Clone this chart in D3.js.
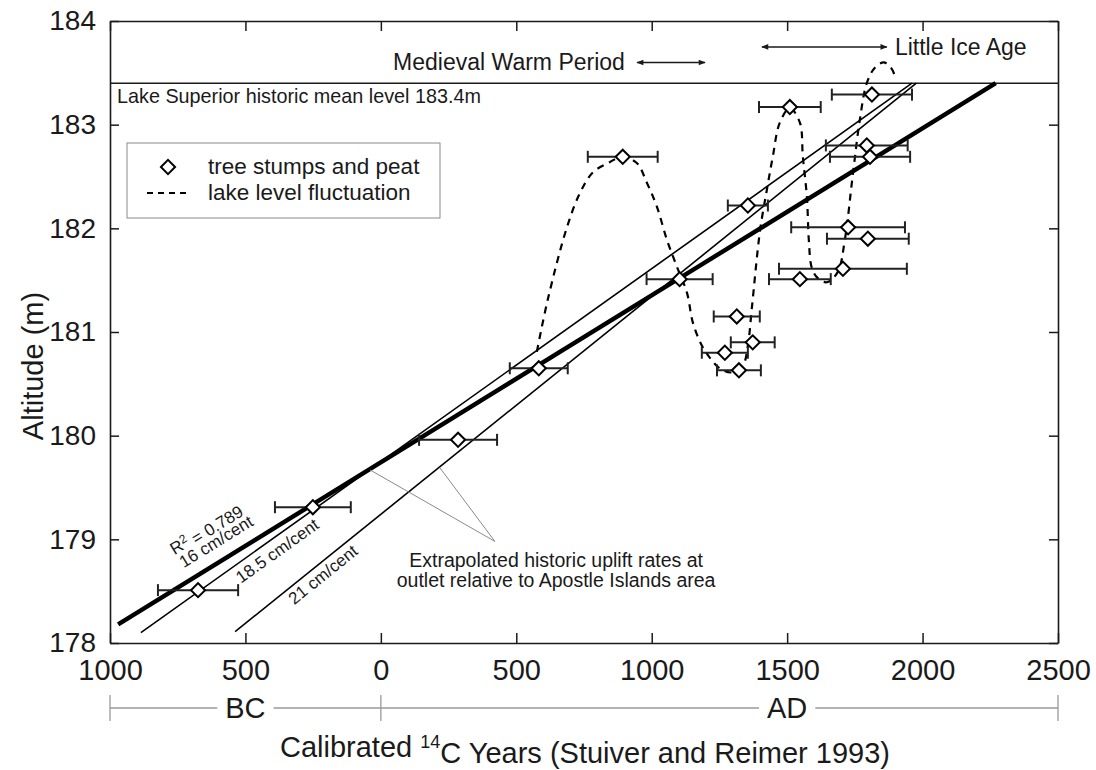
<!DOCTYPE html>
<html>
<head>
<meta charset="utf-8">
<script src="https://cdn.jsdelivr.net/npm/d3@7"></script>
<style>
body { margin: 0; background: #fff; }
svg { font-family: "Liberation Sans", Arial, Helvetica, sans-serif; }
</style>
</head>
<body>
<script>
// tree stumps and peat samples (calibrated year, altitude m, +/- years)
var sampleYears = [-675, -251, 285, 583, 893, 1103, 1314, 1373, 1270, 1322, 1355, 1510, 1547, 1706, 1725, 1798, 1794, 1806, 1813];
var sampleAlts = [178.51, 179.31, 179.96, 180.65, 182.69, 181.51, 181.15, 180.90, 180.80, 180.63, 182.22, 183.17, 181.51, 181.61, 182.01, 181.90, 182.80, 182.69, 183.29];
var sampleErrs = [148, 140, 144, 107, 129, 122, 85, 81, 85, 81, 74, 114, 114, 236, 210, 151, 151, 148, 148];

// lake level fluctuation (dashed)
var lakeYears = [576, 616, 687, 735, 783, 846, 890, 945, 982, 1019, 1056, 1093, 1130, 1152, 1185, 1215, 1251, 1295, 1337, 1355, 1370, 1400, 1425, 1447, 1473, 1510, 1547, 1558, 1573, 1580, 1591, 1613, 1647, 1687, 1713, 1743, 1768, 1794, 1824, 1857, 1883, 1898];
var lakeLevels = [180.81, 181.31, 182.01, 182.34, 182.54, 182.64, 182.69, 182.63, 182.44, 182.21, 181.89, 181.63, 181.38, 181.09, 180.87, 180.75, 180.65, 180.61, 180.68, 180.87, 181.24, 181.98, 182.37, 182.69, 183.02, 183.16, 183.02, 182.69, 182.30, 181.89, 181.62, 181.52, 181.48, 181.58, 181.89, 182.53, 183.04, 183.40, 183.55, 183.60, 183.55, 183.47];

// uplift rate lines
var rateNames = ["16 cm/cent", "18.5 cm/cent", "21 cm/cent"];
var rateStartYear = [-970, -886, -538];
var rateStartAlt = [178.18, 178.10, 178.11];
var rateEndYear = [2270, 1961, 1977];
var rateEndAlt = [183.4, 183.4, 183.4];
var rateLabelYear = [-609, -383, -214];
var rateLabelAlt = [178.98, 178.89, 178.66];

var xTicks = [-1000, -500, 0, 500, 1000, 1500, 2000, 2500];
var xTickLabels = ["1000", "500", "0", "500", "1000", "1500", "2000", "2500"];
var yTicks = [178, 179, 180, 181, 182, 183, 184];
var yTickLabels = ["178", "179", "180", "181", "182", "183", "184"];

var eraNames = ["BC", "AD"];
var eraStart = [-1000, 0];
var eraEnd = [0, 2500];
var eraLabelAt = [-500, 1500];

var lakeMean = 183.4;

var W = 1096, H = 770;
var plotL = 110, plotR = 1058, plotT = 21, plotB = 643;
var ink = "#1a1a1a";

var svg = d3.select("body").append("svg").attr("width", W).attr("height", H);

var x = d3.scaleLinear().domain([-1000, 2500]).range([plotL, plotR]);
var y = d3.scaleLinear().domain([178, 184]).range([plotB, plotT]);

var defs = svg.append("defs");
defs.append("marker")
    .attr("id", "head")
    .attr("viewBox", "0 -5 10 10")
    .attr("refX", 9).attr("refY", 0)
    .attr("markerWidth", 9).attr("markerHeight", 7)
    .attr("markerUnits", "userSpaceOnUse")
    .attr("orient", "auto-start-reverse")
    .append("path").attr("d", "M0,-4L10,0L0,4Z").attr("fill", ink);

// ---- axes (frame) ----
function styleAxis(size) {
    return function(g) {
        g.attr("font-family", null).attr("font-size", null);
        g.selectAll("path.domain").attr("stroke", ink).attr("stroke-width", 1.6);
        g.selectAll(".tick line").attr("stroke", ink).attr("stroke-width", 1.5);
        g.selectAll("text").attr("fill", ink).style("font-size", size + "px");
    };
}

svg.append("g").attr("transform", "translate(0," + plotB + ")")
    .call(d3.axisBottom(x).tickValues(xTicks).tickSizeInner(-10).tickSizeOuter(0).tickPadding(16)
        .tickFormat(function(d, i) { return xTickLabels[i]; }))
    .call(styleAxis(29));

svg.append("g").attr("transform", "translate(0," + plotT + ")")
    .call(d3.axisTop(x).tickValues(xTicks).tickSizeInner(-10).tickSizeOuter(0).tickFormat(""))
    .call(styleAxis(29));

svg.append("g").attr("transform", "translate(" + plotL + ",0)")
    .call(d3.axisLeft(y).tickValues(yTicks).tickSizeInner(-9).tickSizeOuter(0).tickPadding(14)
        .tickFormat(function(d, i) { return yTickLabels[i]; }))
    .call(styleAxis(28));

svg.append("g").attr("transform", "translate(" + plotR + ",0)")
    .call(d3.axisRight(y).tickValues(yTicks).tickSizeInner(-9).tickSizeOuter(0).tickFormat(""))
    .call(styleAxis(28));

// lake superior historic mean level
svg.append("line")
    .attr("x1", x(-1000)).attr("x2", x(2500))
    .attr("y1", y(lakeMean)).attr("y2", y(lakeMean))
    .attr("stroke", ink).attr("stroke-width", 1.6);

svg.append("text")
    .attr("x", x(-1000) + 7).attr("y", y(lakeMean) + 20)
    .attr("fill", ink).style("font-size", "19.8px")
    .text("Lake Superior historic mean level 183.4m");

// ---- Medieval Warm Period / Little Ice Age ----
svg.append("text")
    .attr("x", x(901)).attr("y", y(183.6) + 8)
    .attr("text-anchor", "end").attr("fill", ink).style("font-size", "23px")
    .text("Medieval Warm Period");
svg.append("line")
    .attr("x1", x(946)).attr("x2", x(1197))
    .attr("y1", y(183.6)).attr("y2", y(183.6))
    .attr("stroke", ink).attr("stroke-width", 1.5)
    .attr("marker-start", "url(#head)").attr("marker-end", "url(#head)");

svg.append("text")
    .attr("x", x(1898)).attr("y", y(183.75) + 8)
    .attr("fill", ink).style("font-size", "23px")
    .text("Little Ice Age");
svg.append("line")
    .attr("x1", x(1407)).attr("x2", x(1868))
    .attr("y1", y(183.75)).attr("y2", y(183.75))
    .attr("stroke", ink).attr("stroke-width", 1.5)
    .attr("marker-start", "url(#head)").attr("marker-end", "url(#head)");

// ---- uplift lines ----
var rates = rateNames.map(function(n, i) {
    return { name: n, x1: rateStartYear[i], y1: rateStartAlt[i], x2: rateEndYear[i], y2: rateEndAlt[i],
             lx: rateLabelYear[i], ly: rateLabelAlt[i] };
});

svg.selectAll("line.rate")
    .data(rates)
    .enter()
    .append("line")
    .attr("class", "rate")
    .attr("x1", function(d) { return x(d.x1); })
    .attr("y1", function(d) { return y(d.y1); })
    .attr("x2", function(d) { return x(d.x2); })
    .attr("y2", function(d) { return y(d.y2); })
    .attr("stroke", "#000")
    .attr("stroke-width", function(d, i) { return i == 0 ? 4.4 : 1.6; });

function angleOf(d) {
    return Math.atan2(y(d.y2) - y(d.y1), x(d.x2) - x(d.x1)) * 180 / Math.PI;
}

svg.selectAll("text.rate")
    .data(rates)
    .enter()
    .append("text")
    .attr("class", "rate")
    .attr("transform", function(d) { return "translate(" + x(d.lx) + "," + y(d.ly) + ") rotate(" + angleOf(d) + ")"; })
    .attr("text-anchor", "middle")
    .attr("dy", "0.35em")
    .attr("fill", ink)
    .style("font-size", "17px")
    .text(function(d) { return d.name; });

// R^2 label above the 16 cm/cent one
var r2 = svg.append("text")
    .attr("transform", "translate(" + x(-646) + "," + y(179.10) + ") rotate(" + angleOf(rates[0]) + ")")
    .attr("text-anchor", "middle")
    .attr("dy", "0.35em")
    .attr("fill", ink)
    .style("font-size", "17px");
r2.append("tspan").text("R");
r2.append("tspan").attr("dy", "-0.45em").style("font-size", "12px").text("2");
r2.append("tspan").attr("dy", "0.45em").text(" = 0.789");

// pointer lines to the extrapolated rates
var pointerFrom = [[-40, 179.67], [218, 179.69]];
svg.selectAll("line.pointer")
    .data(pointerFrom)
    .enter()
    .append("line")
    .attr("class", "pointer")
    .attr("x1", function(d) { return x(d[0]); })
    .attr("y1", function(d) { return y(d[1]); })
    .attr("x2", x(421)).attr("y2", y(178.98))
    .attr("stroke", "#8a8a8a").attr("stroke-width", 1);

svg.append("text")
    .attr("x", x(647)).attr("y", y(178.733))
    .attr("text-anchor", "middle").attr("fill", ink).style("font-size", "19.5px")
    .text("Extrapolated historic uplift rates at");
svg.append("text")
    .attr("x", x(647)).attr("y", y(178.54))
    .attr("text-anchor", "middle").attr("fill", ink).style("font-size", "19.5px")
    .text("outlet relative to Apostle Islands area");

// ---- lake level fluctuation ----
var lake = lakeYears.map(function(d, i) { return [d, lakeLevels[i]]; });
svg.append("path")
    .datum(lake)
    .attr("d", d3.line()
        .x(function(d) { return x(d[0]); })
        .y(function(d) { return y(d[1]); })
        .curve(d3.curveCatmullRom.alpha(0.5)))
    .attr("fill", "none")
    .attr("stroke", "#000")
    .attr("stroke-width", 2.2)
    .attr("stroke-dasharray", "7,6");

// ---- samples with error bars ----
var samples = sampleYears.map(function(d, i) { return { yr: d, alt: sampleAlts[i], err: sampleErrs[i] }; });

var bars = svg.selectAll("g.sample")
    .data(samples)
    .enter()
    .append("g")
    .attr("class", "sample");

bars.append("line")
    .attr("x1", function(d) { return x(d.yr - d.err); })
    .attr("x2", function(d) { return x(d.yr + d.err); })
    .attr("y1", function(d) { return y(d.alt); })
    .attr("y2", function(d) { return y(d.alt); })
    .attr("stroke", "#222").attr("stroke-width", 2);

bars.selectAll("line.cap")
    .data(function(d) { return [[d.yr - d.err, d.alt], [d.yr + d.err, d.alt]]; })
    .enter()
    .append("line")
    .attr("class", "cap")
    .attr("x1", function(d) { return x(d[0]); })
    .attr("x2", function(d) { return x(d[0]); })
    .attr("y1", function(d) { return y(d[1]) - 6; })
    .attr("y2", function(d) { return y(d[1]) + 6; })
    .attr("stroke", "#222").attr("stroke-width", 2);

var diamond = d3.symbol().type(d3.symbolSquare).size(100);

bars.append("path")
    .attr("d", diamond)
    .attr("transform", function(d) { return "translate(" + x(d.yr) + "," + y(d.alt) + ") rotate(45)"; })
    .attr("fill", "#fff")
    .attr("stroke", "#000")
    .attr("stroke-width", 2);

// ---- legend ----
var legend = svg.append("g").attr("transform", "translate(127,143)");
legend.append("rect")
    .attr("width", 313).attr("height", 75)
    .attr("fill", "#fff").attr("stroke", "#8a8a8a").attr("stroke-width", 1);
legend.append("path")
    .attr("d", diamond)
    .attr("transform", "translate(41,24) rotate(45)")
    .attr("fill", "#fff").attr("stroke", "#000").attr("stroke-width", 2);
legend.append("line")
    .attr("x1", 20).attr("x2", 64).attr("y1", 50).attr("y2", 50)
    .attr("stroke", "#000").attr("stroke-width", 2.2).attr("stroke-dasharray", "6,5");
legend.append("text").attr("x", 81).attr("y", 31)
    .attr("fill", ink).style("font-size", "22.5px").text("tree stumps and peat");
legend.append("text").attr("x", 81).attr("y", 57)
    .attr("fill", ink).style("font-size", "22.5px").text("lake level fluctuation");

// ---- BC / AD scale ----
var eraY = plotB + 65;
eraNames.forEach(function(name, i) {
    var t = svg.append("text")
        .attr("x", x(eraLabelAt[i])).attr("y", eraY + 10)
        .attr("text-anchor", "middle").attr("fill", ink).style("font-size", "29px")
        .text(name);
    var bb = t.node().getBBox();
    svg.append("line")
        .attr("x1", x(eraStart[i])).attr("x2", bb.x - 8)
        .attr("y1", eraY).attr("y2", eraY)
        .attr("stroke", "#9a9a9a").attr("stroke-width", 1.3);
    svg.append("line")
        .attr("x1", bb.x + bb.width + 8).attr("x2", x(eraEnd[i]))
        .attr("y1", eraY).attr("y2", eraY)
        .attr("stroke", "#9a9a9a").attr("stroke-width", 1.3);
});
svg.selectAll("line.era")
    .data(eraStart.concat([eraEnd[eraEnd.length - 1]]))
    .enter()
    .append("line")
    .attr("class", "era")
    .attr("x1", function(d) { return x(d); })
    .attr("x2", function(d) { return x(d); })
    .attr("y1", eraY - 13).attr("y2", eraY + 13)
    .attr("stroke", "#9a9a9a").attr("stroke-width", 1.3);

// ---- axis titles ----
var xt = svg.append("text")
    .attr("x", (plotL + plotR) / 2 + 1).attr("y", 757)
    .attr("text-anchor", "middle").attr("fill", ink).style("font-size", "29px");
xt.append("tspan").text("Calibrated ");
xt.append("tspan").attr("dy", "-0.5em").style("font-size", "18px").text("14");
xt.append("tspan").attr("dy", "0.5em").text("C Years (Stuiver and Reimer 1993)");

svg.append("text")
    .attr("transform", "translate(43," + 366 + ") rotate(-90)")
    .attr("text-anchor", "middle").attr("fill", ink).style("font-size", "29px")
    .text("Altitude (m)");
</script>
</body>
</html>
